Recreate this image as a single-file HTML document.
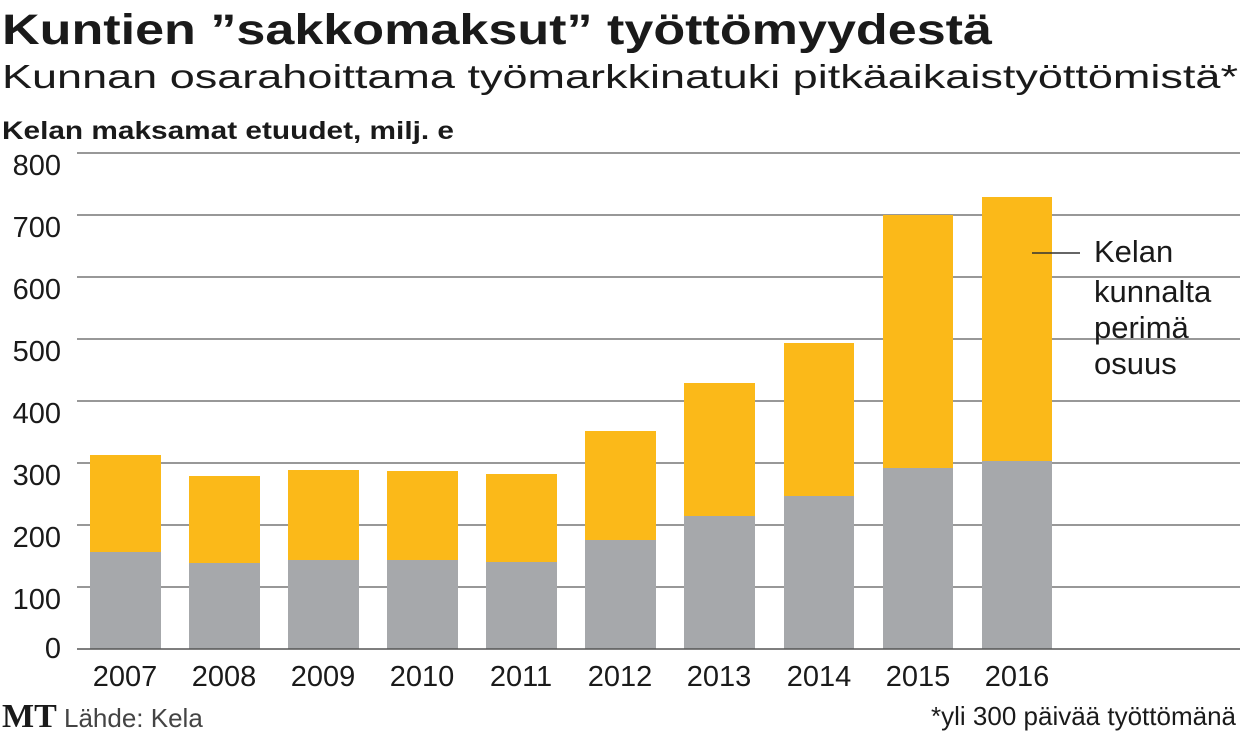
<!DOCTYPE html>
<html><head><meta charset="utf-8"><style>
html,body{margin:0;padding:0;background:#fff;}
svg{display:block;font-family:"Liberation Sans",sans-serif;}
</style></head><body>
<svg width="1240" height="735" viewBox="0 0 1240 735">
<text x="2" y="44" font-size="43" font-weight="bold" fill="#1a1a1a" textLength="990" lengthAdjust="spacingAndGlyphs">Kuntien ”sakkomaksut” työttömyydestä</text>
<text x="2" y="88" font-size="33" fill="#1a1a1a" textLength="1236" lengthAdjust="spacingAndGlyphs">Kunnan osarahoittama työmarkkinatuki pitkäaikaistyöttömistä*</text>
<text x="2" y="139" font-size="25" font-weight="bold" fill="#1a1a1a" textLength="452" lengthAdjust="spacingAndGlyphs">Kelan maksamat etuudet, milj. e</text>
<g stroke="#777" stroke-width="1.5">
<line x1="77" x2="1240" y1="153" y2="153"/><line x1="77" x2="1240" y1="215" y2="215"/>
<line x1="77" x2="1240" y1="277" y2="277"/><line x1="77" x2="1240" y1="339" y2="339"/>
<line x1="77" x2="1240" y1="401" y2="401"/><line x1="77" x2="1240" y1="463" y2="463"/>
<line x1="77" x2="1240" y1="525" y2="525"/><line x1="77" x2="1240" y1="587" y2="587"/>
</g>
<g font-size="29" fill="#1a1a1a" text-anchor="end">
<text x="61" y="175">800</text><text x="61" y="237">700</text><text x="61" y="299">600</text>
<text x="61" y="361">500</text><text x="61" y="423">400</text><text x="61" y="485">300</text>
<text x="61" y="547">200</text><text x="61" y="609">100</text><text x="61" y="658">0</text>
</g>
<g fill="#fbb919">
<rect x="90" y="455" width="71" height="194"/><rect x="189" y="476" width="71" height="173"/>
<rect x="288" y="470" width="71" height="179"/><rect x="387" y="471" width="71" height="178"/>
<rect x="486" y="474" width="71" height="175"/><rect x="585" y="431" width="71" height="218"/>
<rect x="684" y="383" width="71" height="266"/><rect x="784" y="343" width="70" height="306"/>
<rect x="883" y="215" width="70" height="434"/><rect x="982" y="197" width="70" height="452"/>
</g>
<g fill="#a6a8ab">
<rect x="90" y="552" width="71" height="97"/><rect x="189" y="563" width="71" height="86"/>
<rect x="288" y="560" width="71" height="89"/><rect x="387" y="560" width="71" height="89"/>
<rect x="486" y="562" width="71" height="87"/><rect x="585" y="540" width="71" height="109"/>
<rect x="684" y="516" width="71" height="133"/><rect x="784" y="496" width="70" height="153"/>
<rect x="883" y="468" width="70" height="181"/><rect x="982" y="461" width="70" height="188"/>
</g>
<line x1="77" x2="1240" y1="649" y2="649" stroke="#555" stroke-width="1.5"/>
<line x1="1032" x2="1080" y1="253" y2="253" stroke="#333" stroke-width="1.5"/>
<g font-size="31" fill="#1a1a1a">
<text x="1094" y="262">Kelan</text><text x="1094" y="302">kunnalta</text>
<text x="1094" y="338">perimä</text><text x="1094" y="374">osuus</text>
</g>
<g font-size="29" fill="#1a1a1a" text-anchor="middle">
<text x="125" y="686">2007</text><text x="224" y="686">2008</text><text x="323" y="686">2009</text>
<text x="422" y="686">2010</text><text x="521" y="686">2011</text><text x="620" y="686">2012</text>
<text x="719" y="686">2013</text><text x="819" y="686">2014</text><text x="918" y="686">2015</text>
<text x="1017" y="686">2016</text>
</g>
<text x="2" y="727" font-family="Liberation Serif,serif" font-size="34" font-weight="bold" fill="#1a1a1a">MT</text>
<text x="64" y="727" font-size="26" fill="#444">Lähde: Kela</text>
<text x="1236" y="725" font-size="26" fill="#1a1a1a" text-anchor="end">*yli 300 päivää työttömänä</text>
</svg>
</body></html>
